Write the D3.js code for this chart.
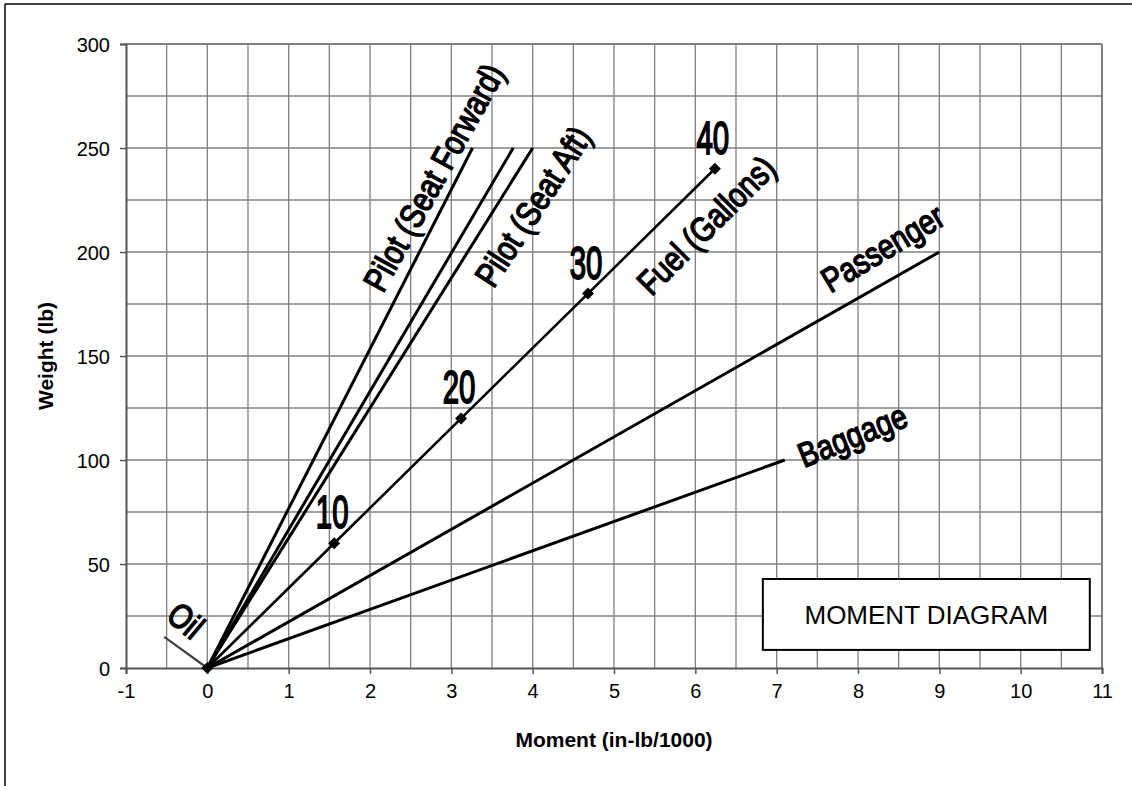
<!DOCTYPE html>
<html>
<head>
<meta charset="utf-8">
<script src="https://cdn.jsdelivr.net/npm/d3@7"></script>
<style>
  body { margin: 0; background: #fff; }
  svg { display: block; }
  text { font-family: "Liberation Sans", Arial, sans-serif; }
</style>
</head>
<body>
<script>
// data
var oilMoment = [0, -0.53], oilWeight = [0, 15];
var pilotFwdMoment = [0, 3.26], pilotFwdWeight = [0, 250];
var pilotMidMoment = [0, 3.76], pilotMidWeight = [0, 250];
var pilotAftMoment = [0, 4.0], pilotAftWeight = [0, 250];
var fuelGallons = [0, 10, 20, 30, 40];
var fuelMoment = [0, 1.56, 3.12, 4.68, 6.24];
var fuelWeight = [0, 60, 120, 180, 240];
var passengerMoment = [0, 9.0], passengerWeight = [0, 200];
var baggageMoment = [0, 7.1], baggageWeight = [0, 100];

var xTicks = [-1, 0, 1, 2, 3, 4, 5, 6, 7, 8, 9, 10, 11];
var yTicks = [0, 50, 100, 150, 200, 250, 300];

// line names and where the rotated labels sit (data units)
var lineLabels = [
  {text: "Pilot (Seat Forward)", x: 2.78, y: 236, angle: -61},
  {text: "Pilot (Seat Aft)", x: 4.0, y: 222, angle: -57},
  {text: "Fuel (Gallons)", x: 6.13, y: 213, angle: -45},
  {text: "Passenger", x: 8.3, y: 202, angle: -31},
  {text: "Baggage", x: 7.93, y: 112, angle: -22},
  {text: "Oil", x: -0.26, y: 23, angle: 40}
];

var width = 1132, height = 786;
var padL = 126, padR = 1102, padT = 44, padB = 668;

var svg = d3.select("body").append("svg")
    .attr("width", width)
    .attr("height", height);

// outer frame (only top and left edges show)
svg.append("line").attr("x1", 5).attr("y1", 4).attr("x2", width).attr("y2", 4)
   .attr("stroke", "#000").attr("stroke-width", 1.5);
svg.append("line").attr("x1", 5).attr("y1", 4).attr("x2", 5).attr("y2", height)
   .attr("stroke", "#000").attr("stroke-width", 1.5);

var x = d3.scaleLinear().domain([-1, 11]).range([padL, padR]);
var y = d3.scaleLinear().domain([0, 300]).range([padB, padT]);

// grid
var grid = svg.append("g");
grid.selectAll(".vg").data(d3.range(-0.5, 11.01, 0.5)).enter().append("line")
    .attr("x1", d => x(d)).attr("x2", d => x(d))
    .attr("y1", padT).attr("y2", padB)
    .attr("stroke", "#808080").attr("stroke-width", d => d == 11 ? 2 : 1.3);
grid.selectAll(".hg").data(d3.range(25, 300.1, 25)).enter().append("line")
    .attr("x1", padL).attr("x2", padR)
    .attr("y1", d => y(d)).attr("y2", d => y(d))
    .attr("stroke", "#808080").attr("stroke-width", d => d == 300 ? 2 : 1.3);

// axes
var xAxis = d3.axisBottom(x).tickValues(xTicks).tickSize(6).tickPadding(10).tickFormat(d => String(d));
var yAxis = d3.axisLeft(y).tickValues(yTicks).tickSize(6).tickPadding(10).tickFormat(d => String(d));

var gx = svg.append("g").attr("transform", "translate(0," + padB + ")").call(xAxis);
var gy = svg.append("g").attr("transform", "translate(" + padL + ",0)").call(yAxis);
[gx, gy].forEach(function(g) {
  g.select(".domain").attr("stroke", "#555").attr("stroke-width", 2);
  g.selectAll(".tick line").attr("stroke", "#555").attr("stroke-width", 1.5);
  g.selectAll(".tick text").attr("font-size", 20).attr("fill", "#000")
    .attr("font-family", "'Liberation Sans', Arial, sans-serif");
});
gy.selectAll(".tick text").attr("dy", "0.36em");

svg.append("text")
   .attr("x", (padL + padR) / 2).attr("y", 747)
   .attr("text-anchor", "middle").attr("font-size", 21).attr("font-weight", "bold")
   .text("Moment (in-lb/1000)");
svg.append("text")
   .attr("transform", "translate(53," + (padB + padT) / 2 + ") rotate(-90)")
   .attr("text-anchor", "middle").attr("font-size", 21).attr("font-weight", "bold")
   .text("Weight (lb)");

// series lines
function pts(mx, wy) { return mx.map((m, i) => [m, wy[i]]); }
var line = d3.line().x(d => x(d[0])).y(d => y(d[1]));

var series = [
  {p: pts(oilMoment, oilWeight), c: "#404040", w: 2.2},
  {p: pts(pilotFwdMoment, pilotFwdWeight), c: "#000", w: 3},
  {p: pts(pilotMidMoment, pilotMidWeight), c: "#000", w: 3},
  {p: pts(pilotAftMoment, pilotAftWeight), c: "#000", w: 3},
  {p: pts(fuelMoment, fuelWeight), c: "#000", w: 2.6},
  {p: pts(passengerMoment, passengerWeight), c: "#000", w: 3},
  {p: pts(baggageMoment, baggageWeight), c: "#000", w: 3}
];
svg.selectAll(".series").data(series).enter().append("path")
   .attr("d", d => line(d.p))
   .attr("fill", "none")
   .attr("stroke", d => d.c)
   .attr("stroke-width", d => d.w);

// fuel markers
var diamond = d3.symbol().type(d3.symbolSquare).size(72);
svg.selectAll(".mk").data(pts(fuelMoment, fuelWeight)).enter().append("path")
   .attr("d", diamond)
   .attr("transform", d => "translate(" + x(d[0]) + "," + y(d[1]) + ") rotate(45)")
   .attr("fill", "#000");

// gallon numbers above the markers
svg.selectAll(".gal").data(fuelGallons.slice(1)).enter().append("text")
   .attr("transform", (d, i) => "translate(" + (x(fuelMoment[i + 1]) - 2) + "," + (y(fuelWeight[i + 1]) - 15) + ") scale(0.98,1.55)")
   .attr("text-anchor", "middle")
   .attr("font-size", 30)
   .attr("stroke", "#000").attr("stroke-width", 1.2)
   .text(d => d);

// rotated names
svg.selectAll(".name").data(lineLabels).enter().append("text")
   .attr("transform", d => "translate(" + x(d.x) + "," + y(d.y) + ") rotate(" + d.angle + ") scale(0.95,1.15)")
   .attr("text-anchor", "middle")
   .attr("dy", "0.36em")
   .attr("font-size", 30)
   .attr("stroke", "#000").attr("stroke-width", 1.3)
   .text(d => d.text);

// title box
var bx0 = 6.83, bx1 = 10.85, by0 = 42.8, by1 = 8.7;
svg.append("rect")
   .attr("x", x(bx0)).attr("y", y(by0))
   .attr("width", x(bx1) - x(bx0)).attr("height", y(by1) - y(by0))
   .attr("fill", "#fff").attr("stroke", "#000").attr("stroke-width", 2);
svg.append("text")
   .attr("x", (x(bx0) + x(bx1)) / 2).attr("y", (y(by0) + y(by1)) / 2)
   .attr("dy", "0.36em")
   .attr("text-anchor", "middle").attr("font-size", 26)
   .text("MOMENT DIAGRAM");
</script>
</body>
</html>
